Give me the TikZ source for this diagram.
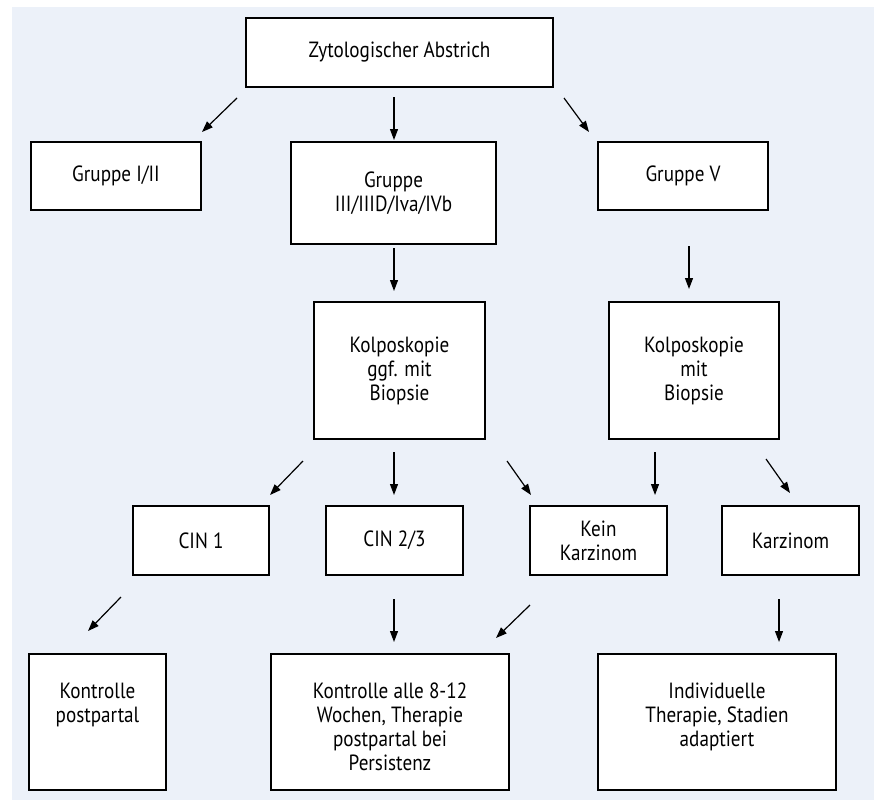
\documentclass[tikz,border=0pt]{standalone}
\usepackage{fontspec}
\setmainfont{PT Sans}[FakeStretch=0.87]
\usetikzlibrary{arrows.meta}
\definecolor{bgblue}{RGB}{236,241,249}
\begin{document}
\begin{tikzpicture}[x=1pt,y=-1pt,
  box/.style={draw=black, line width=1.8pt, fill=white, inner sep=0pt, align=center,
    font=\fontsize{22}{24}\selectfont},
  txt/.style={inner sep=0pt, align=center, font=\fontsize{22}{24}\selectfont},
  arr/.style={line width=1.2pt, -{Triangle[length=11pt,width=8pt]}}]
\useasboundingbox (0,0) rectangle (874,800);
\fill[bgblue] (12,7) rectangle (874,800);

% boxes
\node[box, minimum width=307pt, minimum height=69pt] (top) at (399.5,52.5) {Zytologischer Abstrich};
\node[box, minimum width=170pt, minimum height=68pt] (g12) at (116,176) {Gruppe I/II};
\node[box, minimum width=205pt, minimum height=102pt] (g3) at (393.5,193) {Gruppe\\III/IIID/Iva/IVb};
\node[box, minimum width=170pt, minimum height=68pt] (g5) at (683,176) {Gruppe V};
\node[box, minimum width=171pt, minimum height=137pt] (k1) at (399.5,370.5) {Kolposkopie\\ggf. mit\\Biopsie};
\node[box, minimum width=170pt, minimum height=137pt] (k2) at (694,370.5) {Kolposkopie\\mit\\Biopsie};
\node[box, minimum width=136pt, minimum height=69pt] (cin1) at (201,540.5) {CIN 1};
\node[box, minimum width=137pt, minimum height=69pt] (cin23) at (394.5,540.5) {CIN 2/3};
\node[box, minimum width=137pt, minimum height=69pt] (kein) at (598.5,540.5) {Kein\\Karzinom};
\node[box, minimum width=137pt, minimum height=69pt] (karz) at (790.5,540.5) {Karzinom};
\node[box, minimum width=137pt, minimum height=136pt] (kp) at (97.5,722) {};
\node[box, minimum width=238pt, minimum height=136pt] (ka) at (390,722) {};
\node[box, minimum width=238pt, minimum height=136pt] (ind) at (717,722) {};
\node[txt, anchor=north] (kpt) at (97.5,683) {Kontrolle\\postpartal};
\node[txt, anchor=north] (kat) at (390,683) {Kontrolle alle 8-12\\Wochen, Therapie\\postpartal bei\\Persistenz};
\node[txt, anchor=north] (indt) at (717,683) {Individuelle\\Therapie, Stadien\\adaptiert};

% arrow end points
\coordinate (a1s) at (237,98);  \coordinate (a1e) at (202,132);
\coordinate (a2s) at (394,97);  \coordinate (a2e) at (394,140);
\coordinate (a3s) at (564,98);  \coordinate (a3e) at (589,132);
\coordinate (a4s) at (394,248); \coordinate (a4e) at (394,291);
\coordinate (a5s) at (689,246); \coordinate (a5e) at (689,289);
\coordinate (a6s) at (303,461); \coordinate (a6e) at (270,495);
\coordinate (a7s) at (394,452); \coordinate (a7e) at (394,495);
\coordinate (a8s) at (507,461); \coordinate (a8e) at (531,495);
\coordinate (a9s) at (655,452); \coordinate (a9e) at (655,495);
\coordinate (a10s) at (766,459); \coordinate (a10e) at (790,493);
\coordinate (a11s) at (121,597); \coordinate (a11e) at (88,631);
\coordinate (a12s) at (394,599); \coordinate (a12e) at (394,642);
\coordinate (a13s) at (530,605); \coordinate (a13e) at (496,638);
\coordinate (a14s) at (779,599); \coordinate (a14e) at (779,642);

\foreach \i in {1,...,14} {\draw[arr] (a\i s) -- (a\i e);}
\end{tikzpicture}
\end{document}
